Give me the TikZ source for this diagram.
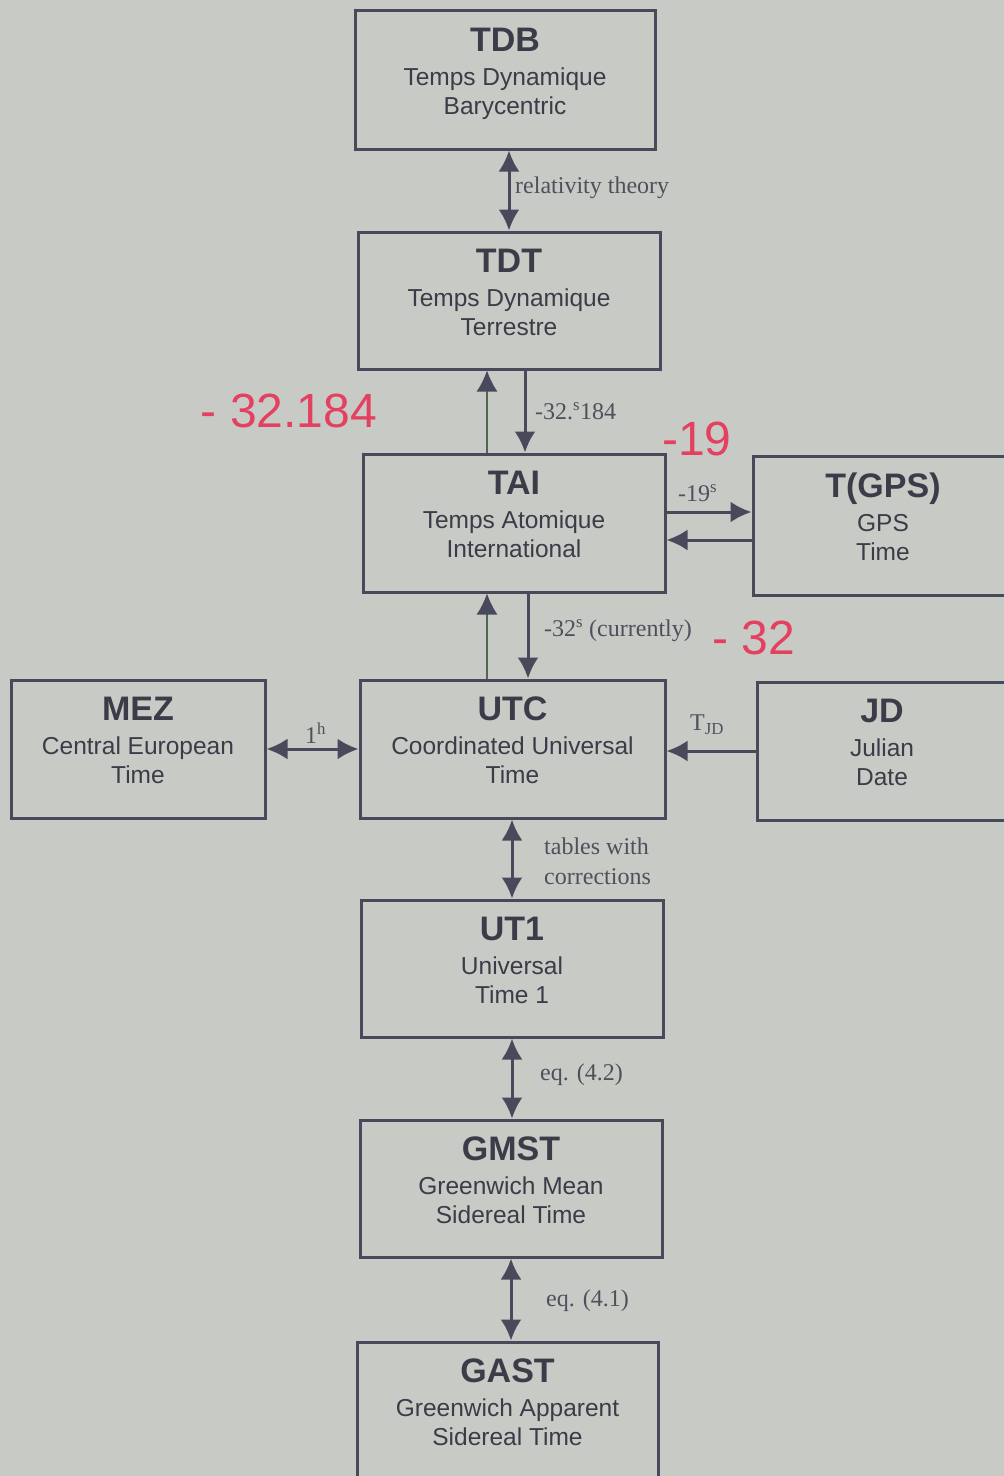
\documentclass[tikz,border=0pt]{standalone}
\usepackage{fontspec}
\setmainfont{Liberation Serif}
\setsansfont{Liberation Sans}
\usetikzlibrary{arrows.meta,positioning,calc}
\definecolor{paper}{RGB}{200,202,198}
\definecolor{boxline}{RGB}{72,74,92}
\definecolor{boxtext}{RGB}{58,60,72}
\definecolor{labeltext}{RGB}{78,80,92}
\definecolor{thinline}{RGB}{80,104,82}
\definecolor{pen}{RGB}{228,64,96}

\newcommand{\timetext}[3]{{\fontsize{34}{34}\selectfont\bfseries #1}\\[5pt]#2\\#3\rule[-17pt]{0pt}{17pt}}

\tikzset{
    timebox/.style={draw=boxline, line width=3pt, fill=paper, minimum width=302pt, minimum height=137pt,
        inner sep=0pt, align=center, text=boxtext, font=\sffamily\fontsize{24.5}{29}\selectfont},
    link/.style={boxline, line width=3pt, -{Latex[length=21pt,width=21pt]}},
    twoway/.style={link, {Latex[length=21pt,width=21pt]}-{Latex[length=21pt,width=21pt]}},
    backlink/.style={thinline, line width=1.5pt, -{Latex[length=21pt,width=21pt,color=boxline]}},
    edgelabel/.style={inner sep=0pt, anchor=west, align=left, text=labeltext, font=\fontsize{24}{30}\selectfont},
    scribble/.style={inner sep=0pt, text=pen, font=\sffamily\fontsize{48}{48}\selectfont}
}

\begin{document}
\begin{tikzpicture}[x=1pt, y=-1pt]
    \useasboundingbox[fill=paper] (0,0) rectangle (1004,1476);

    % time scales
    \node[timebox, minimum width=300pt, minimum height=139pt] (tdb) at (505,79.5) {\timetext{TDB}{Temps Dynamique}{Barycentric}};
    \node[timebox] (tdt) at (509,300.5) {\timetext{TDT}{Temps Dynamique}{Terrestre}};
    \node[timebox, minimum height=138pt] (tai) at (514,523) {\timetext{TAI}{Temps Atomique}{International}};
    \node[timebox, minimum width=260pt, minimum height=139pt] (gps) at (883,525.5) {\timetext{T(GPS)}{GPS}{Time}};
    \node[timebox, minimum width=254pt, minimum height=138pt] (mez) at (138,749) {\timetext{MEZ}{Central European}{Time}};
    \node[timebox, minimum width=305pt, minimum height=138pt] (utc) at (512.5,749) {\timetext{UTC}{Coordinated Universal}{Time}};
    \node[timebox, minimum width=250pt, minimum height=138pt] (jd) at (882,751) {\timetext{JD}{Julian}{Date}};
    \node[timebox] (utone) at (512,968.5) {\timetext{UT1}{Universal}{Time 1}};
    \node[timebox] (gmst) at (511,1188.5) {\timetext{GMST}{Greenwich Mean}{Sidereal Time}};
    \node[timebox, minimum width=301pt, minimum height=138pt] (gast) at (507.5,1411) {\timetext{GAST}{Greenwich Apparent}{Sidereal Time}};

    % conversions
    \draw[twoway] (tdt.north |- tdb.south) -- (tdt.north);
    \node[edgelabel] (relabel) at (515,188) {relativity theory};

    \draw[backlink] ([xshift=-27pt]tai.north) -- ([xshift=-27pt]tai.north |- tdt.south);
    \draw[link] ([xshift=16pt]tdt.south) -- ([xshift=16pt]tdt.south |- tai.north);
    \node[edgelabel] (tdtlabel) at (535,411) {-32.\textsuperscript{s}184};

    \draw[link] ([yshift=11pt]tai.east) -- ([yshift=11pt]tai.east -| gps.west);
    \draw[link] ([yshift=-17pt]tai.east -| gps.west) -- ([yshift=-17pt]tai.east);
    \node[edgelabel] (gpslabel) at (678,493) {-19\textsuperscript{s}};

    \draw[backlink] ([xshift=-27pt]tai.south |- utc.north) -- ([xshift=-27pt]tai.south);
    \draw[link] ([xshift=14pt]tai.south) -- ([xshift=14pt]tai.south |- utc.north);
    \node[edgelabel] (utclabel) at (544,631) {-32\textsuperscript{s} (currently)};

    \draw[twoway] (mez.east) -- (mez.east -| utc.west);
    \node[edgelabel] (mezlabel) at (305,733) {1\textsuperscript{h}};

    \draw[link] (jd.west) -- (jd.west -| utc.east);
    \node[edgelabel] (jdlabel) at (690,725) {T\textsubscript{JD}};

    \draw[twoway] (utc.south -| utone.north) -- (utone.north);
    \node[edgelabel] (tablabel) at (544,861) {tables with\\corrections};

    \draw[twoway] (utone.south) -- (utone.south |- gmst.north);
    \node[edgelabel] (eqtwo) at (540,1075) {eq. (4.2)};

    \draw[twoway] (gmst.south) -- (gmst.south |- gast.north);
    \node[edgelabel] (eqone) at (546,1301) {eq. (4.1)};

    % handwritten notes
    \node[scribble] (notetdt) at (289,411) {- 32.184};
    \node[scribble] (notegps) at (697,439) {-19};
    \node[scribble] (noteutc) at (754,638) {- 32};
\end{tikzpicture}
\end{document}
